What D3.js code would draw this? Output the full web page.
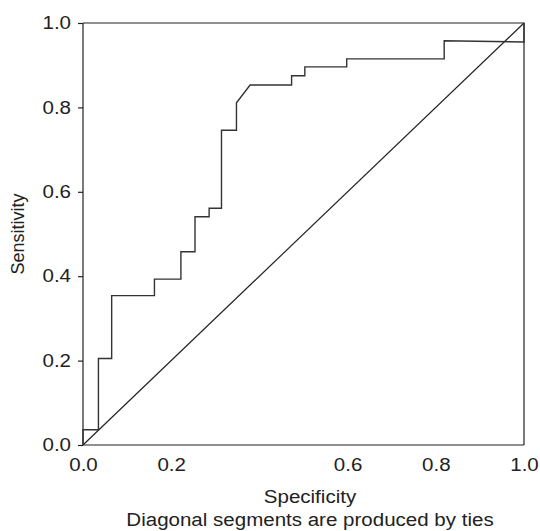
<!DOCTYPE html>
<html>
<head>
<meta charset="utf-8">
<script src="https://cdn.jsdelivr.net/npm/d3@7"></script>
<style>
  body { margin: 0; background: #fff; }
  text { font-family: "Liberation Sans", Arial, sans-serif; fill: #222; }
</style>
</head>
<body>
<div id="chart"></div>
<script>
// DATA (ROC curve vertices)
const specificity = [0, 0, 0.035, 0.035, 0.065, 0.065, 0.162, 0.162, 0.222, 0.222,
  0.254, 0.254, 0.286, 0.286, 0.314, 0.314, 0.348, 0.348, 0.379, 0.473, 0.473,
  0.503, 0.503, 0.598, 0.598, 0.819, 0.819, 1.0, 1.0];
const sensitivity = [0, 0.036, 0.036, 0.205, 0.205, 0.354, 0.354, 0.393, 0.393, 0.458,
  0.458, 0.541, 0.541, 0.561, 0.561, 0.746, 0.746, 0.811, 0.853, 0.853, 0.875,
  0.875, 0.896, 0.896, 0.915, 0.915, 0.958, 0.955, 1.0];
const xTicks = [0, 0.2, 0.6, 0.8, 1.0];
const yTicks = [0, 0.2, 0.4, 0.6, 0.8, 1.0];

// SETTINGS
const width = 540, height = 531;
const margin = { top: 23, right: 16, bottom: 86, left: 83 };
const graphWidth = width - margin.left - margin.right;
const graphHeight = height - margin.top - margin.bottom;
const axisColor = '#222';
const curveColor = '#333';
const stretch = 1.14;
const labelCenter = 310;

const x = d3.scaleLinear().domain([0, 1]).range([0, graphWidth]);
const y = d3.scaleLinear().domain([0, 1]).range([graphHeight, 0]);

const svg = d3.select('#chart').append('svg')
  .attr('width', width)
  .attr('height', height);

const graph = svg.append('g')
  .attr('transform', `translate(${margin.left}, ${margin.top})`);

// frame (top + right)
graph.append('path')
  .attr('d', `M0,0H${graphWidth}V${graphHeight}`)
  .attr('fill', 'none')
  .attr('stroke', axisColor)
  .attr('stroke-width', 1.2);

// AXES
const xAxis = d3.axisBottom(x).tickValues(xTicks).tickSize(0).tickPadding(13)
  .tickFormat(d3.format('.1f'));
const yAxis = d3.axisLeft(y).tickValues(yTicks).tickSize(5).tickPadding(7)
  .tickFormat(d3.format('.1f'));

const xAxisGroup = graph.append('g')
  .attr('transform', `translate(0, ${graphHeight})`)
  .call(xAxis);
const yAxisGroup = graph.append('g').call(yAxis);

[xAxisGroup, yAxisGroup].forEach(g => {
  g.select('.domain').attr('stroke', axisColor).attr('stroke-width', 1.2);
  g.selectAll('.tick line').attr('stroke', axisColor).attr('stroke-width', 1.2);
  g.selectAll('text').attr('font-size', 18).attr('fill', '#222')
    .attr('font-family', '"Liberation Sans", Arial, sans-serif');
});
xAxisGroup.select('.domain').attr('d', `M0,0H${graphWidth}`);
yAxisGroup.select('.domain').attr('d', `M0,0V${graphHeight}`);

// reference diagonal
graph.append('line')
  .attr('x1', x(0)).attr('y1', y(0))
  .attr('x2', x(1)).attr('y2', y(1))
  .attr('stroke', axisColor)
  .attr('stroke-width', 1.2);

// ROC curve
const line = d3.line()
  .x(i => x(specificity[i]))
  .y(i => y(sensitivity[i]));

graph.append('path')
  .datum(d3.range(specificity.length))
  .attr('fill', 'none')
  .attr('stroke', curveColor)
  .attr('stroke-width', 1.4)
  .attr('d', line);

// LABELS
svg.append('text')
  .attr('class', 'lbl')
  .attr('x', labelCenter)
  .attr('y', 503)
  .attr('text-anchor', 'middle')
  .attr('font-size', 18)
  .text('Specificity');

svg.append('text')
  .attr('class', 'lbl')
  .attr('x', labelCenter)
  .attr('y', 526)
  .attr('text-anchor', 'middle')
  .attr('font-size', 18)
  .text('Diagonal segments are produced by ties');

svg.append('text')
  .attr('transform', `translate(24, ${margin.top + graphHeight / 2}) rotate(-90)`)
  .attr('text-anchor', 'middle')
  .attr('font-size', 18)
  .text('Sensitivity');

// widen horizontal text to match the reference's proportions
svg.selectAll('.lbl, .tick text').each(function() {
  const len = this.getComputedTextLength();
  d3.select(this)
    .attr('textLength', len * stretch)
    .attr('lengthAdjust', 'spacingAndGlyphs');
});
</script>
</body>
</html>
